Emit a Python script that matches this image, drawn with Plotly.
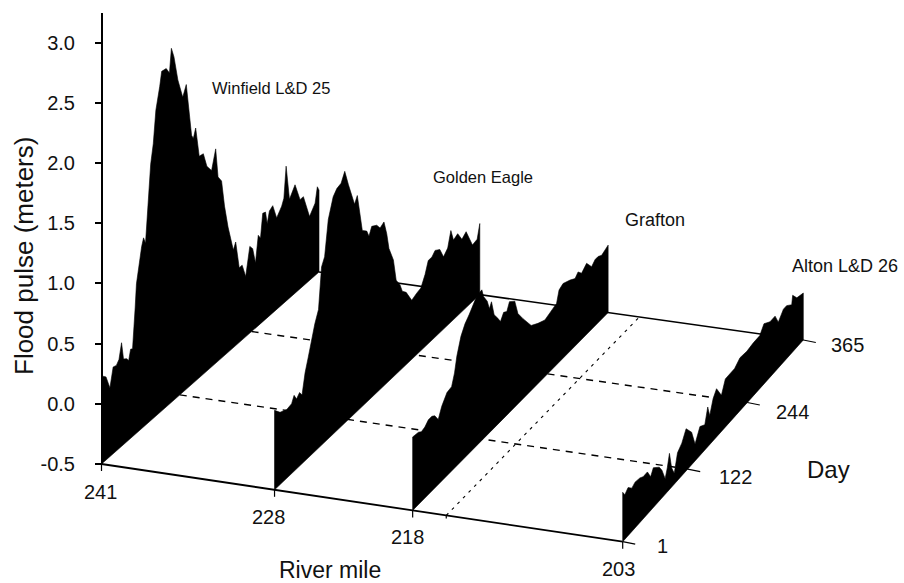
import numpy as np
import plotly.graph_objects as go

W, H = 904, 583

# ---------- data ----------
stations = ["Winfield L&D 25", "Golden Eagle", "Grafton", "Alton L&D 26"]
station_miles = [241, 228, 218, 203]
mile_ticks = [241, 228, 218, 203]
day_ticks = [1, 122, 244, 365]
pulse_ticks = [-0.5, 0.0, 0.5, 1.0, 1.5, 2.0, 2.5, 3.0]
grid_days = [122, 244]
grid_mile = 215.6

winfield_days = [1,3,8,14,19,24,28,32,35,40,43,46,49,53,55,63,66,69,73,77,81,85,91,94,101,106,109,113,119,
                 127,133,136,142,145,149,155,162,168,176,183,187,193,198,204,213,217,223,228,234,241,246,
                 251,256,260,264,269,272,276,282,289,298,302,306,312,322,331,337,348,358,362,365]
winfield_pulse = [.24,.22,.19,.07,.22,.21,.24,.36,.21,.19,.16,.24,.23,.55,.74,1.01,1.07,1.01,1.29,1.63,1.78,2.04,
                  2.21,2.32,2.31,2.25,2.44,2.35,2.13,1.95,2.03,1.89,1.57,1.53,1.60,1.34,1.33,1.20,1.13,1.28,
                  1.03,.97,.74,.54,.31,.36,.12,.12,.00,.22,.18,.04,.25,.21,.40,.39,.28,.37,.39,.26,.32,.37,
                  .62,.32,.40,.24,.24,.03,.10,.22,.18]

golden_days = [1,10,21,29,33,37,42,46,51,56,67,73,78,83,89,97,103,110,116,122,133,138,143,147,155,159,164,173,
               179,186,191,195,203,208,215,219,226,236,245,253,261,267,274,280,289,296,304,310,315,323,331,339,
               351,360,365]
golden_pulse = [.16,.10,.07,.08,.13,.08,.11,.07,.23,.33,.56,.65,.98,1.04,1.32,1.47,1.51,1.52,1.59,1.45,1.24,1.29,
                1.09,.96,.92,.86,.92,.89,.84,.86,.74,.60,.47,.28,.21,.14,.10,-.01,.01,.02,.10,.19,.19,.22,.19,
                .10,.14,.26,.16,.18,.10,.13,-.03,-.02,.09]

grafton_days = [1,11,16,22,28,34,39,45,51,60,68,73,77,84,91,98,105,111,120,123,130,134,138,143,150,155,161,167,
                172,182,188,197,213,226,239,254,262,267,275,289,299,305,312,322,332,339,345,352,359,365]
grafton_pulse = [.11,.10,.08,.09,.12,.12,.10,.04,.12,.19,.20,.29,.41,.54,.61,.65,.70,.74,.75,.68,.61,.53,.57,.44,
                 .38,.33,.38,.36,.42,.38,.25,.17,.04,.00,-.03,-.01,.01,.10,.12,.09,.06,.09,.05,.09,.02,.05,.05,
                 .03,.05,.06]

alton_days = [1,5,11,18,24,33,39,47,53,58,69,74,80,84,88,92,97,103,111,119,130,137,147,157,163,167,174,181,191,
              199,208,218,229,243,257,271,280,293,304,311,322,329,340,342,351,365]
alton_pulse = [-.09,-.13,-.10,-.14,-.12,-.13,-.15,-.15,-.22,-.17,-.22,-.27,-.37,-.30,-.20,-.34,-.41,-.27,-.23,-.15,
               -.23,-.36,-.26,-.29,-.17,-.26,-.15,-.10,-.20,-.10,-.10,-.10,-.06,-.07,-.06,-.06,.00,-.04,-.04,-.12,
               -.06,-.06,-.10,-.03,-.09,-.11]

series_days = [winfield_days, golden_days, grafton_days, alton_days]
series_pulse = [winfield_pulse, golden_pulse, grafton_pulse, alton_pulse]

# ---------- oblique projection of (mile, day, pulse) on to the page ----------
FRONT_L, FRONT_R = np.array([101.5, 464.0]), np.array([622.7, 541.7])
BACK_L, BACK_R = np.array([319.0, 272.0]), np.array([803.3, 340.0])
PX_PER_M = 120.4
MILE_KNOTS = [203, 218, 228, 241]
MILE_POS = [1.0, 0.597, 0.332, 0.0]
DAY_KNOTS = [1, 122, 244, 365]
DAY_POS = [0.0, 0.36, 0.69, 1.0]


def to_meters(py):
    return -0.5 + (FRONT_L[1] - np.asarray(py, float)) / PX_PER_M


Y_RANGE = [float(to_meters(H)), float(to_meters(0))]


def project(mile, day, pulse=-0.5, dx=0.0, dy=0.0):
    u = np.interp(mile, MILE_KNOTS, MILE_POS)
    t = np.interp(day, DAY_KNOTS, DAY_POS)
    f = FRONT_L + u * (FRONT_R - FRONT_L)
    b = BACK_L + u * (BACK_R - BACK_L)
    px = f[0] + np.multiply(t, b[0] - f[0]) + dx
    py = f[1] + np.multiply(t, b[1] - f[1]) + dy
    return px, to_meters(py) + (np.asarray(pulse, float) + 0.5)


fig = go.Figure()


def line(xs, ys, width=1.5, dash="solid"):
    fig.add_trace(go.Scatter(x=xs, y=ys, mode="lines", showlegend=False, hoverinfo="skip",
                             line=dict(color="black", width=width, dash=dash)))


# back edge of the floor
x0, y0 = project(241, 365)
x1, y1 = project(203, 365)
line([x0, x1], [y0, y1], 1.6)

# dashed day lines and dotted mile line across the floor
for i, d in enumerate(grid_days):
    x0, y0 = project(241, d)
    x1, y1 = project(203, d)
    line([x0, x1], [y0, y1], 1.4, "7px,6px")
x0, y0 = project(grid_mile, 1)
x1, y1 = project(grid_mile, 365)
line([x0, x1], [y0, y1], 1.1, "3px,5px")

# filled flood pulse profiles
for mile, days, pulse in zip(station_miles, series_days, series_pulse):
    px, py = project(mile, np.array(days), np.array(pulse))
    xa, ya = project(mile, 1)
    xb, yb = project(mile, 365)
    fig.add_trace(go.Scatter(x=[xa, *px, xb, xa], y=[ya, *py, yb, ya], mode="lines", fill="toself",
                             fillcolor="black", line=dict(color="black", width=0.6),
                             showlegend=False, hoverinfo="skip"))

# front edge and ticks
x0, y0 = project(241, 1)
x1, y1 = project(203, 1)
line([x0, x1], [y0, y1], 1.8)
for m in mile_ticks + [grid_mile]:
    a = project(m, 1)
    b = project(m, 1, dy=7 if m != grid_mile else 3)
    line([a[0], b[0]], [a[1], b[1]], 1.2)
for d in day_ticks:
    a = project(203, d)
    b = project(203, d, dx=12.5, dy=2.5)
    line([a[0], b[0]], [a[1], b[1]], 1.2)

# the real pulse axis, with its own domain so that the line stops where the original does
fig.add_trace(go.Scatter(x=[None], y=[None], yaxis="y2", showlegend=False, hoverinfo="skip"))

FONT = "Liberation Sans, Arial, sans-serif"


def label(text, px, py, size, xanchor="center", angle=0):
    fig.add_annotation(text=text, x=px / W, y=1 - py / H, xref="paper", yref="paper", showarrow=False,
                       xanchor=xanchor, yanchor="middle", textangle=angle,
                       font=dict(family=FONT, size=size, color="#111"))


for m, (px, py) in zip(mile_ticks, [(100, 492), (268, 517), (407, 537), (618, 569)]):
    label(str(m), px, py, 20)
for d, (px, py) in zip(day_ticks, [(655, 546), (717, 477), (774, 412), (829, 345)]):
    label(str(d), px, py, 20, "left")

label("River mile", 330, 570, 23)
label("Day", 828, 469, 24)
label("Flood pulse (meters)", 24, 256, 26, angle=-90)
for name, (px, py), size in zip(stations, [(271, 88), (483, 177), (655, 220), (845, 266)], [16.5, 16.5, 18, 18]):
    label(name, px, py, size)

fig.update_layout(
    width=W, height=H, margin=dict(l=0, r=0, t=0, b=0, autoexpand=False), paper_bgcolor="white",
    plot_bgcolor="rgba(0,0,0,0)", autosize=False,
    xaxis=dict(range=[0, W], visible=False, domain=[0, 1], automargin=False),
    yaxis=dict(range=Y_RANGE, visible=False, domain=[0, 1], automargin=False),
    yaxis2=dict(range=[-0.5, float(to_meters(13))], domain=[1 - FRONT_L[1] / H, 1 - 13 / H],
                anchor="free", position=FRONT_L[0] / W, side="left", automargin=False,
                tickvals=pulse_ticks, ticktext=[f"{v:.1f}" for v in pulse_ticks],
                ticks="outside", ticklen=5.5, tickwidth=1.5, tickcolor="black",
                showline=True, linecolor="black", linewidth=2, showgrid=False, zeroline=False,
                ticklabelstandoff=16, tickfont=dict(family=FONT, size=20, color="#111")),
)

fig.write_html("out.html", config=dict(displayModeBar=False),
               post_script="document.body.style.margin='0';document.documentElement.style.overflow='hidden';")
